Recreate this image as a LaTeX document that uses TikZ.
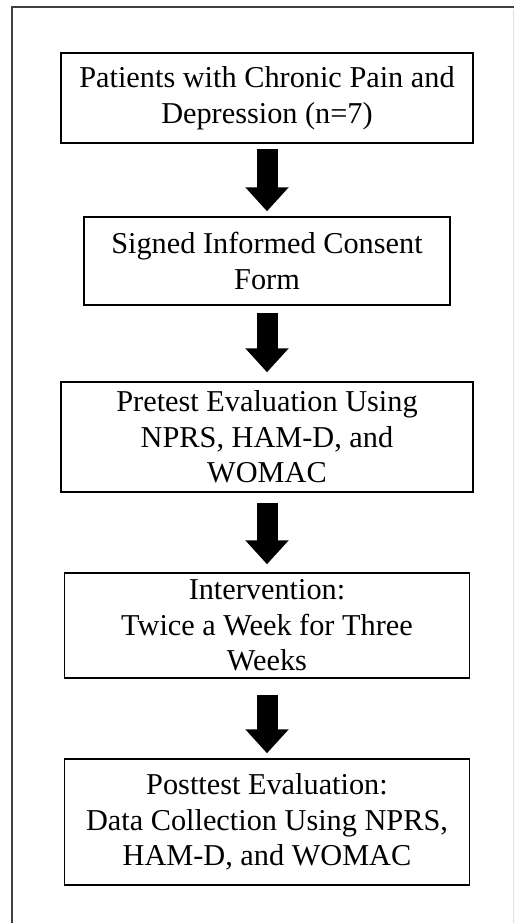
\documentclass[tikz,border=0pt]{standalone}
\usepackage{fontspec}
\setmainfont{Liberation Serif}
\usetikzlibrary{arrows.meta}
\begin{document}
\begin{tikzpicture}[x=1pt,y=-1pt,
  every node/.style={draw,line width=1.5pt,align=center,inner sep=0pt,
    font=\fontsize{30.3}{35.5}\selectfont},
  bigarrow/.style={line width=21pt,-{Triangle[width=42pt,length=24pt]}}]
\useasboundingbox (0,0) rectangle (517,923);
% frame
\draw[line width=2pt,black!75] (12,923) -- (12,7) -- (514,7);
\draw[black!12] (513,9) -- (513,923);
% steps
\node[minimum width=412pt,minimum height=90pt] (p1) at (267,98)
  {Patients with Chronic Pain and\\Depression (n=7)};
\node[minimum width=366pt,minimum height=88pt] (p2) at (267,261)
  {Signed Informed Consent\\Form};
\node[minimum width=412pt,minimum height=110pt] (p3) at (267,437)
  {Pretest Evaluation Using\\NPRS, HAM-D, and\\WOMAC};
\node[minimum width=405pt,minimum height=105pt] (p4) at (267,625.5)
  {Intervention:\\Twice a Week for Three\\Weeks};
\node[minimum width=405pt,minimum height=126pt] (p5) at (267,822)
  {Posttest Evaluation:\\Data Collection Using NPRS,\\HAM-D, and WOMAC};
\foreach \a/\b/\s/\e in {p1/p2/5/5,p2/p3/7/9,p3/p4/10/8,p4/p5/16/5}
  \draw[bigarrow,shorten <=\s pt,shorten >=\e pt] (\a) -- (\b);
\end{tikzpicture}
\end{document}
